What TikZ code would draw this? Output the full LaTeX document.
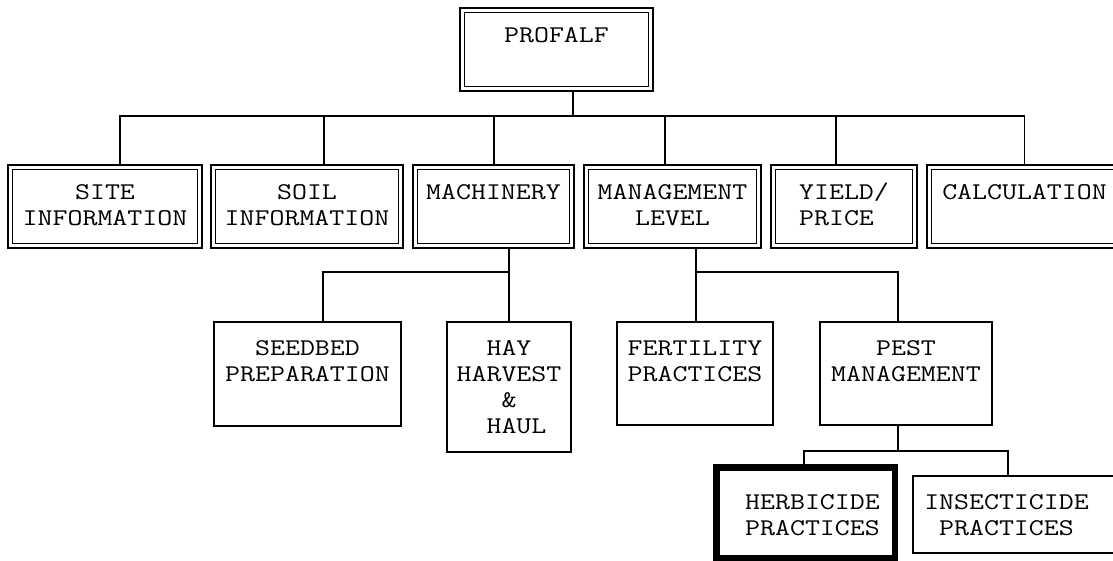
\documentclass[tikz,border=0pt]{standalone}
\usepackage{fontspec}
\setmonofont{Latin Modern Mono}[FakeStretch=1.21]

% stacked, centred lines of a box label; baseline = first line
\newcommand{\boxlines}[2][c]{\begin{tabular}[t]{@{}#1@{}}#2\end{tabular}}

\begin{document}
\begin{tikzpicture}[x=1pt,y=-1pt,
  link/.style={line width=1.1pt},
  dblbox/.style={draw, line width=1.2pt, double=white, double distance=3.3pt,
                 inner sep=0pt, outer sep=2.25pt},
  onebox/.style={draw, line width=1.3pt, inner sep=0pt, outer sep=0pt},
  heavybox/.style={draw, line width=6.5pt, inner sep=0pt, outer sep=3.25pt},
  boxtext/.style={inner sep=0pt, outer sep=0pt, anchor=base,
                font=\ttfamily\fontsize{24}{26}\selectfont}]

\useasboundingbox (0,0) rectangle (1113,561);

% box placement from outer corners: style, name, x1, y1, x2, y2, inset
\newcommand{\placebox}[7]{%
  \node[#1, minimum width={#5-#3-#7}, minimum height={#6-#4-#7}]
    (#2) at ({(#3+#5)/2},{(#4+#6)/2}) {};}

% top level
\placebox{dblbox}{profalf}{460}{8}{653}{91}{4.5}
% second level
\placebox{dblbox}{site}{8}{165}{202}{248}{4.5}
\placebox{dblbox}{soil}{211}{165}{403}{248}{4.5}
\placebox{dblbox}{mach}{413}{165}{574}{248}{4.5}
\placebox{dblbox}{mgmt}{584}{165}{761}{248}{4.5}
\placebox{dblbox}{yield}{771}{165}{917}{248}{4.5}
\placebox{dblbox}{calc}{927}{165}{1122}{248}{4.5}
% third level
\placebox{onebox}{seedbed}{214}{322}{401}{426}{0}
\placebox{onebox}{hay}{447}{322}{571}{452}{0}
\placebox{onebox}{fert}{617}{322}{773}{425}{0}
\placebox{onebox}{pest}{820}{322}{992}{425}{0}
% fourth level
\placebox{heavybox}{herb}{713}{464}{898}{561}{6.5}
\placebox{onebox}{insect}{913}{476}{1118}{553}{0}

% labels
\node[boxtext] (l-profalf) at ([yshift=-35pt]profalf.north) {PROFALF};
\node[boxtext] (l-site) at ([yshift=-35pt]site.north) {\boxlines{SITE\\INFORMATION}};
\node[boxtext] (l-soil) at ([yshift=-35pt]soil.north) {\boxlines{SOIL\\INFORMATION}};
\node[boxtext] (l-mach) at ([yshift=-35pt]mach.north) {MACHINERY};
\node[boxtext] (l-mgmt) at ([yshift=-35pt]mgmt.north) {\boxlines{MANAGEMENT\\LEVEL}};
\node[boxtext] (l-yield) at ([yshift=-35pt]yield.north) {\boxlines[l]{YIELD/\\PRICE}};
\node[boxtext] (l-calc) at ([yshift=-35pt]calc.north) {CALCULATION};
\node[boxtext] (l-seedbed) at ([yshift=-33pt]seedbed.north) {\boxlines{SEEDBED\\PREPARATION}};
\node[boxtext] (l-hay) at ([yshift=-33pt]hay.north) {\boxlines{HAY\\HARVEST\\\&\\\hphantom{H}HAUL}};
\node[boxtext] (l-fert) at ([yshift=-33pt]fert.north) {\boxlines{FERTILITY\\PRACTICES}};
\node[boxtext] (l-pest) at ([yshift=-33pt]pest.north) {\boxlines{PEST\\MANAGEMENT}};
\node[boxtext] (l-herb) at ([xshift=7pt,yshift=-45pt]herb.north) {\boxlines{HERBICIDE\\PRACTICES}};
\node[boxtext] (l-insect) at ([xshift=-9pt,yshift=-33pt]insect.north) {\boxlines{INSECTICIDE\\PRACTICES}};

% junction lines
\coordinate (bus1) at (0,116);
\coordinate (bus2) at (0,272);
\coordinate (bus3) at (0,451);

% PROFALF to the second level
\draw[link] ([xshift=16.5pt]profalf.south) -- ([xshift=16.5pt]profalf.south |- bus1);
\draw[link] ([xshift=15pt]site.north) -- ([xshift=15pt]site.north |- bus1)
            -- (calc.north |- bus1) -- (calc.north);
\draw[link] ([xshift=17pt]soil.north) -- ([xshift=17pt]soil.north |- bus1);
\draw[link] ([xshift=0.5pt]mach.north) -- ([xshift=0.5pt]mach.north |- bus1);
\draw[link] ([xshift=-7.5pt]mgmt.north) -- ([xshift=-7.5pt]mgmt.north |- bus1);
\draw[link] ([xshift=-8pt]yield.north) -- ([xshift=-8pt]yield.north |- bus1);

% MACHINERY branch
\draw[link] ([xshift=15.5pt]mach.south) -- (hay.north);
\draw[link] ([xshift=15.5pt]seedbed.north) |- ([xshift=15.5pt]mach.south |- bus2);

% MANAGEMENT LEVEL branch
\draw[link] ([xshift=23.5pt]mgmt.south) -- ([xshift=1pt]fert.north);
\draw[link] ([xshift=-8pt]pest.north) |- ([xshift=1pt]fert.north |- bus2);

% PEST MANAGEMENT branch
\draw[link] ([xshift=-8pt]pest.south) -- ([xshift=-8pt]pest.south |- bus3);
\draw[link] ([xshift=-1.5pt]herb.north) |- ([xshift=-7.5pt]insect.north |- bus3)
            -- ([xshift=-7.5pt]insect.north);
\end{tikzpicture}
\end{document}
